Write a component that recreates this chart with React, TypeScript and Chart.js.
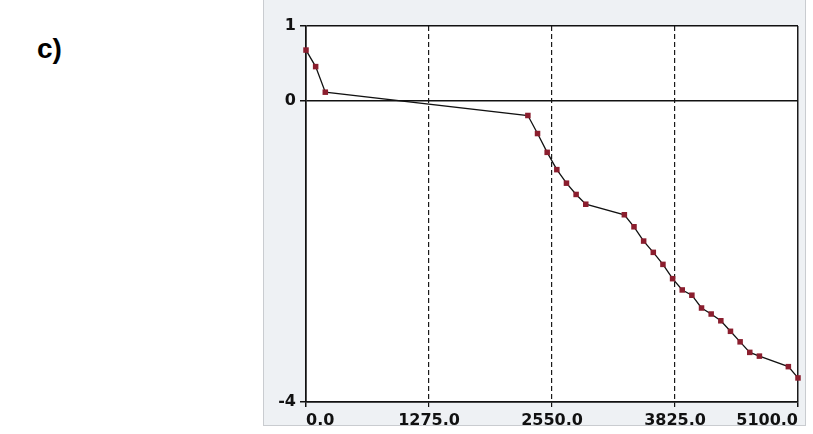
import React, { useEffect, useRef } from "react";
import { Chart, registerables } from "chart.js";

Chart.register(...registerables);

const panelLabel = "c)";
const xValues = [0, 100, 200, 2300, 2400, 2500, 2600, 2700, 2800, 2900, 3300, 3400, 3500, 3600, 3700, 3800, 3900, 4000, 4100, 4200, 4300, 4400, 4500, 4600, 4700, 5000, 5100];
const yValues = [0.68, 0.46, 0.12, -0.19, -0.43, -0.68, -0.91, -1.09, -1.24, -1.37, -1.51, -1.67, -1.86, -2.01, -2.17, -2.36, -2.51, -2.58, -2.75, -2.83, -2.92, -3.06, -3.2, -3.34, -3.39, -3.53, -3.68];
const xTickValues = [0, 1275, 2550, 3825, 5100];
const yTickValues = [1, 0, -4];
const xMin = 0;
const xMax = 5100;
const yMin = -4;
const yMax = 1;

export default function App() {
  const ref = useRef<HTMLCanvasElement>(null);

  useEffect(() => {
    if (!ref.current) return;
    const whiteArea = {
      id: "whiteArea",
      beforeDraw(chart: any) {
        const { ctx, chartArea } = chart;
        ctx.save();
        ctx.fillStyle = "#ffffff";
        ctx.fillRect(chartArea.left, chartArea.top, chartArea.right - chartArea.left, chartArea.bottom - chartArea.top);
        ctx.restore();
      },
    };
    const tickFont = { family: "'DejaVu Sans'", size: 16, weight: "bold" as const };
    const chart = new Chart(ref.current, {
      type: "line",
      data: {
        datasets: [
          {
            data: xValues.map((x, i) => ({ x, y: yValues[i] })),
            borderColor: "#111111",
            borderWidth: 1.3,
            pointStyle: "rect",
            pointRadius: 3.9,
            pointBackgroundColor: "#8b1e2e",
            pointBorderColor: "#8b1e2e",
            pointBorderWidth: 0,
            tension: 0,
            clip: false as any,
          },
        ],
      },
      options: {
        animation: false,
        responsive: false,
        maintainAspectRatio: false,
        layout: { padding: { left: 0, top: 27, right: 7, bottom: 0 } },
        plugins: { legend: { display: false }, tooltip: { enabled: false } },
        scales: {
          x: {
            type: "linear",
            min: xMin,
            max: xMax,
            afterBuildTicks: (s: any) => {
              s.ticks = xTickValues.map((v) => ({ value: v }));
            },
            afterFit: (s: any) => {
              s.height = 25;
            },
            ticks: {
              align: "inner",
              padding: 4,
              color: "#111111",
              font: tickFont,
              maxRotation: 0,
              autoSkip: false,
              callback: (v: any) => Number(v).toFixed(1),
            },
            grid: {
              color: "#1a1a1a",
              lineWidth: (c: any) => (c.tick && (c.tick.value === xMin || c.tick.value === xMax) ? 1.5 : 1.2),
              tickLength: 5,
              tickColor: "#111111",
            },
            border: {
              display: true,
              color: "#111111",
              width: 1.5,
              dash: (c: any) => (c.tick && c.tick.value !== xMin && c.tick.value !== xMax ? [5, 3] : []),
            },
          },
          y: {
            type: "linear",
            min: yMin,
            max: yMax,
            afterBuildTicks: (s: any) => {
              s.ticks = yTickValues.map((v) => ({ value: v }));
            },
            afterFit: (s: any) => {
              s.width = 42;
            },
            ticks: {
              padding: 4,
              color: "#111111",
              font: tickFont,
              autoSkip: false,
              callback: (v: any) => String(v),
            },
            grid: {
              color: "#111111",
              lineWidth: 1.5,
              tickLength: 6,
              tickColor: "#111111",
            },
            border: { display: true, color: "#111111", width: 1.5 },
          },
        },
      } as any,
      plugins: [whiteArea],
    });
    return () => chart.destroy();
  }, []);

  return (
    <div style={{ position: "absolute", left: 0, top: 0, width: 813, height: 434, background: "#ffffff", overflow: "hidden" }}>
      <div
        style={{
          position: "absolute",
          left: 37,
          top: 32,
          fontFamily: "'Liberation Sans', Arial, sans-serif",
          fontWeight: "bold",
          fontSize: 28,
          color: "#000",
          lineHeight: 1.2,
        }}
      >
        {panelLabel}
      </div>
      <div
        style={{
          position: "absolute",
          left: 263,
          top: -2,
          width: 541,
          height: 426,
          background: "#eef1f4",
          border: "1px solid #c9ccd0",
        }}
      >
        <canvas ref={ref} width={541} height={428} style={{ display: "block", width: 541, height: 428 }} />
      </div>
    </div>
  );
}
